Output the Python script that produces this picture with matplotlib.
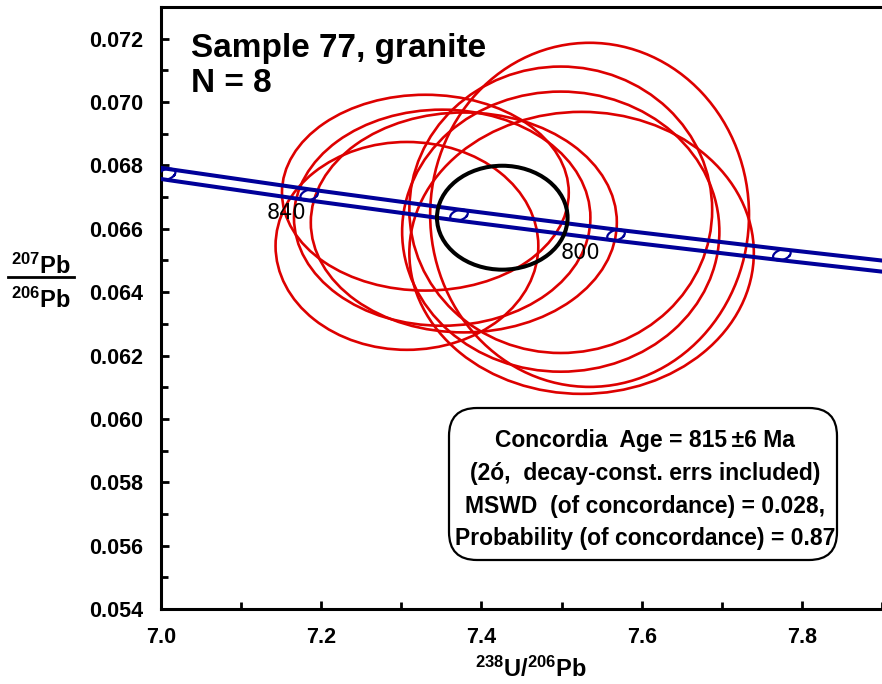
import matplotlib.pyplot as plt
from matplotlib.patches import Ellipse, FancyBboxPatch
from matplotlib.lines import Line2D
import numpy as np

plt.rcParams['font.family'] = ['Liberation Sans', 'DejaVu Sans']
plt.rcParams['mathtext.fontset'] = 'custom'
plt.rcParams['mathtext.rm'] = 'Liberation Sans'
plt.rcParams['mathtext.bf'] = 'Liberation Sans:bold'

# spot analyses (238U/206Pb, 207Pb/206Pb) with 2-sigma half axes
spot_x = [7.535, 7.499, 7.525, 7.330, 7.378, 7.307, 7.499, 7.351]
spot_y = [0.06644, 0.06660, 0.06524, 0.06714, 0.06620, 0.06546, 0.06591, 0.06635]
spot_sx = [0.199, 0.189, 0.215, 0.179, 0.191, 0.164, 0.198, 0.185]
spot_sy = [0.00543, 0.00452, 0.00445, 0.00309, 0.00347, 0.00328, 0.00442, 0.00341]

# concordia age ellipse
conc_age_x, conc_age_y = 7.426, 0.06635
conc_age_sx, conc_age_sy = 0.0815, 0.00164

# concordia curve, age ticks (Ma) and decay-constant error band
ages = [880, 860, 840, 820, 800, 780, 760]
curve_x = [6.837, 7.007, 7.185, 7.372, 7.568, 7.775, 7.992]
curve_y = [0.06838, 0.06772, 0.06707, 0.06643, 0.06580, 0.06518, 0.06456]
band_half = 0.000175
labelled_ages = {840: (-23, -18), 800: (-36, -18)}

info_lines = ['Concordia  Age = 815\u2009±6 Ma',
              '(2ó,  decay-const. errs included)',
              'MSWD  (of concordance) = 0.028,',
              'Probability (of concordance) = 0.87']

fig = plt.figure(figsize=(8.82, 6.84), dpi=100)
ax = fig.add_axes([161 / 882, 75 / 684, 1 - 161 / 882, 602 / 684])
ax.set_xlim(7.0, 7.89)
ax.set_ylim(0.054, 0.073)

# error ellipses
for x, y, sx, sy in zip(spot_x, spot_y, spot_sx, spot_sy):
    ax.add_patch(Ellipse((x, y), 2 * sx, 2 * sy, fill=False, ec='#dd0000', lw=1.9, zorder=3))
ax.add_patch(Ellipse((conc_age_x, conc_age_y), 2 * conc_age_sx, 2 * conc_age_sy,
                     fill=False, ec='black', lw=2.9, zorder=5))

# concordia band
cx = np.array(curve_x)
cy = np.array(curve_y)
ax.plot(cx, cy + band_half, color='#000099', lw=2.9, zorder=4)
ax.plot(cx, cy - band_half, color='#000099', lw=2.9, zorder=4)

# age markers
slope = (cy[-1] - cy[0]) / (cx[-1] - cx[0])
t = np.linspace(0, 2 * np.pi, 60)
for age, x, y in zip(ages, cx, cy):
    ux, uy = 0.0095, slope * 0.0095
    vx, vy = 0.0055, band_half
    ax.plot(x + ux * np.cos(t) + vx * np.sin(t), y + uy * np.cos(t) + vy * np.sin(t),
            color='#000099', lw=1.6, zorder=4)
    if age in labelled_ages:
        ax.annotate(str(age), (x, y), xytext=labelled_ages[age], textcoords='offset pixels',
                    ha='center', va='center', fontsize=15, family='DejaVu Sans', zorder=6)

# axes styling
ax.set_xticks([7.0, 7.2, 7.4, 7.6, 7.8])
ax.set_xticks(np.arange(7.1, 7.9, 0.2), minor=True)
ax.set_yticks(np.arange(0.054, 0.0721, 0.002))
ax.set_yticks(np.arange(0.055, 0.0721, 0.002), minor=True)
ax.xaxis.set_major_formatter(plt.FormatStrFormatter('%.1f'))
ax.yaxis.set_major_formatter(plt.FormatStrFormatter('%.3f'))
ax.tick_params(which='both', direction='in', width=2, labelsize=15.5, pad=13)
ax.tick_params(which='major', length=6)
ax.tick_params(which='minor', length=5)
for lab in ax.get_xticklabels() + ax.get_yticklabels():
    lab.set_fontweight('bold')
for side in ['left', 'bottom', 'top']:
    ax.spines[side].set_linewidth(2.2)
ax.spines['right'].set_visible(False)

# title
fig.text(191 / 882, 1 - 57 / 684, 'Sample 77, granite', fontsize=24, fontweight='bold')
fig.text(191 / 882, 1 - 92 / 684, 'N = 8', fontsize=24, fontweight='bold')

# axis labels
fig.text(531 / 882, 1 - 677 / 684, r'$\mathbf{^{238}}$U/$\mathbf{^{206}}$Pb', ha='center',
         va='baseline', fontsize=17, fontweight='bold')
fig.text(41 / 882, 1 - 274 / 684, r'$\mathbf{^{207}}$Pb', ha='center', va='baseline',
         fontsize=17, fontweight='bold')
fig.text(41 / 882, 1 - 308 / 684, r'$\mathbf{^{206}}$Pb', ha='center', va='baseline',
         fontsize=17, fontweight='bold')
fig.add_artist(Line2D([8 / 882, 74 / 882], [1 - 277 / 684, 1 - 277 / 684],
                      transform=fig.transFigure, color='black', lw=2))

# result box
box = FancyBboxPatch((4.49, 1.24), 3.88, 1.52, boxstyle='round,pad=0,rounding_size=0.28',
                     transform=fig.dpi_scale_trans, fc='white', ec='black', lw=1.6, zorder=7)
fig.add_artist(box)
for i, line in enumerate(info_lines):
    fig.text(645 / 882, 1 - (441 + 32.5 * i) / 684, line, ha='center', va='center',
             fontsize=16.5, fontweight='bold', zorder=8)

fig.savefig('out.png', dpi=100)
